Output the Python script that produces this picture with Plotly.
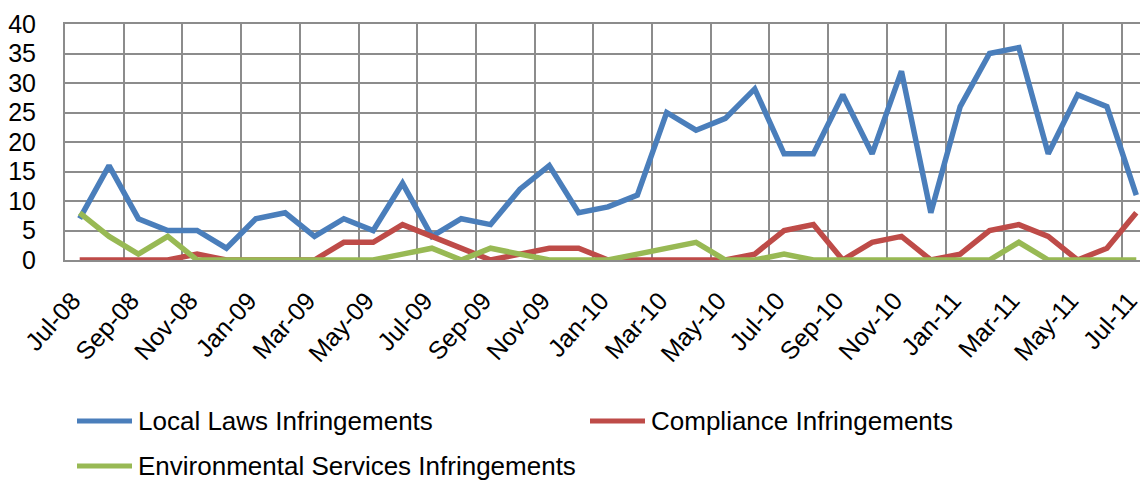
import plotly.graph_objects as go

# Monthly infringement counts, Jul-08 to Jul-11
months = [
    "Jul-08", "Aug-08", "Sep-08", "Oct-08", "Nov-08", "Dec-08",
    "Jan-09", "Feb-09", "Mar-09", "Apr-09", "May-09", "Jun-09",
    "Jul-09", "Aug-09", "Sep-09", "Oct-09", "Nov-09", "Dec-09",
    "Jan-10", "Feb-10", "Mar-10", "Apr-10", "May-10", "Jun-10",
    "Jul-10", "Aug-10", "Sep-10", "Oct-10", "Nov-10", "Dec-10",
    "Jan-11", "Feb-11", "Mar-11", "Apr-11", "May-11", "Jun-11",
    "Jul-11",
]
local_laws = [7, 16, 7, 5, 5, 2, 7, 8, 4, 7, 5, 13,
              4, 7, 6, 12, 16, 8, 9, 11, 25, 22, 24, 29,
              18, 18, 28, 18, 32, 8, 26, 35, 36, 18, 28, 26,
              11]
compliance = [0, 0, 0, 0, 1, 0, 0, 0, 0, 3, 3, 6,
              4, 2, 0, 1, 2, 2, 0, 0, 0, 0, 0, 1,
              5, 6, 0, 3, 4, 0, 1, 5, 6, 4, 0, 2,
              8]
environmental = [8, 4, 1, 4, 0, 0, 0, 0, 0, 0, 0, 1,
                 2, 0, 2, 1, 0, 0, 0, 1, 2, 3, 0, 0,
                 1, 0, 0, 0, 0, 0, 0, 0, 3, 0, 0, 0,
                 0]
series_names = ["Local Laws Infringements", "Compliance Infringements",
                "Environmental Services Infringements"]
series_colors = ["#4A7EBB", "#BE4B48", "#98B954"]
y_ticks = [0, 5, 10, 15, 20, 25, 30, 35, 40]

FONT = "Liberation Sans, Arial, sans-serif"
W, H = 1140, 480
PLOT_L, PLOT_R, PLOT_T, PLOT_B = 65, 1140, 24, 260
STEP = 29.35  # pixels per month

x_idx = list(range(len(months)))
x_right = -0.5 + (PLOT_R - PLOT_L) / STEP

fig = go.Figure()
for name, vals, col in zip(series_names, [local_laws, compliance, environmental], series_colors):
    fig.add_trace(go.Scatter(
        x=x_idx, y=vals, mode="lines", name=name,
        line=dict(color=col, width=5.5), showlegend=False,
        cliponaxis=False,
    ))

grid_col = "#8C8C8C"
fig.update_layout(
    width=W, height=H,
    margin=dict(l=PLOT_L, r=W - PLOT_R, t=PLOT_T, b=H - PLOT_B),
    paper_bgcolor="white", plot_bgcolor="white",
    font=dict(family=FONT, size=25, color="black"),
    xaxis=dict(
        range=[-0.5, x_right],
        automargin=False,
        tickmode="array",
        tickvals=x_idx[::2],
        ticktext=months[::2],
        tickangle=-48,
        showgrid=False,
        ticks="",
        ticklabelstandoff=14,
        ticklabelshift=-7,
        ticklabeloverflow="allow",
        showline=True, linecolor=grid_col, linewidth=2, mirror=True,
        zeroline=False,
        minor=dict(
            tickmode="array",
            tickvals=[i - 0.5 for i in x_idx[::2]][1:],
            showgrid=True, gridcolor=grid_col, gridwidth=2,
            ticks="",
        ),
        tickfont=dict(family=FONT, size=25),
    ),
    yaxis=dict(
        range=[0, 40],
        automargin=False,
        tickmode="array",
        tickvals=y_ticks,
        showgrid=True, gridcolor=grid_col, gridwidth=2,
        showline=True, linecolor=grid_col, linewidth=2,
        zeroline=False,
        ticks="",
        ticklabelstandoff=22,
        tickfont=dict(family=FONT, size=25),
    ),
)

# Legend drawn as line samples with text labels
legend_items = [
    (series_names[0], series_colors[0], 77, 421),
    (series_names[1], series_colors[1], 590, 421),
    (series_names[2], series_colors[2], 77, 466),
]
pw = PLOT_R - PLOT_L
ph = PLOT_B - PLOT_T
for name, col, px, py in legend_items:
    fig.add_shape(
        type="line", xref="paper", yref="paper",
        x0=(px - PLOT_L) / pw, x1=(px + 55 - PLOT_L) / pw,
        y0=(PLOT_B - py) / ph, y1=(PLOT_B - py) / ph,
        line=dict(color=col, width=5),
    )
    fig.add_annotation(
        text=name, xref="paper", yref="paper",
        x=(px + 59 - PLOT_L) / pw, y=(PLOT_B - py) / ph,
        xanchor="left", yanchor="middle", showarrow=False,
        font=dict(family=FONT, size=26, color="black"),
    )

fig.write_html("out.html")
